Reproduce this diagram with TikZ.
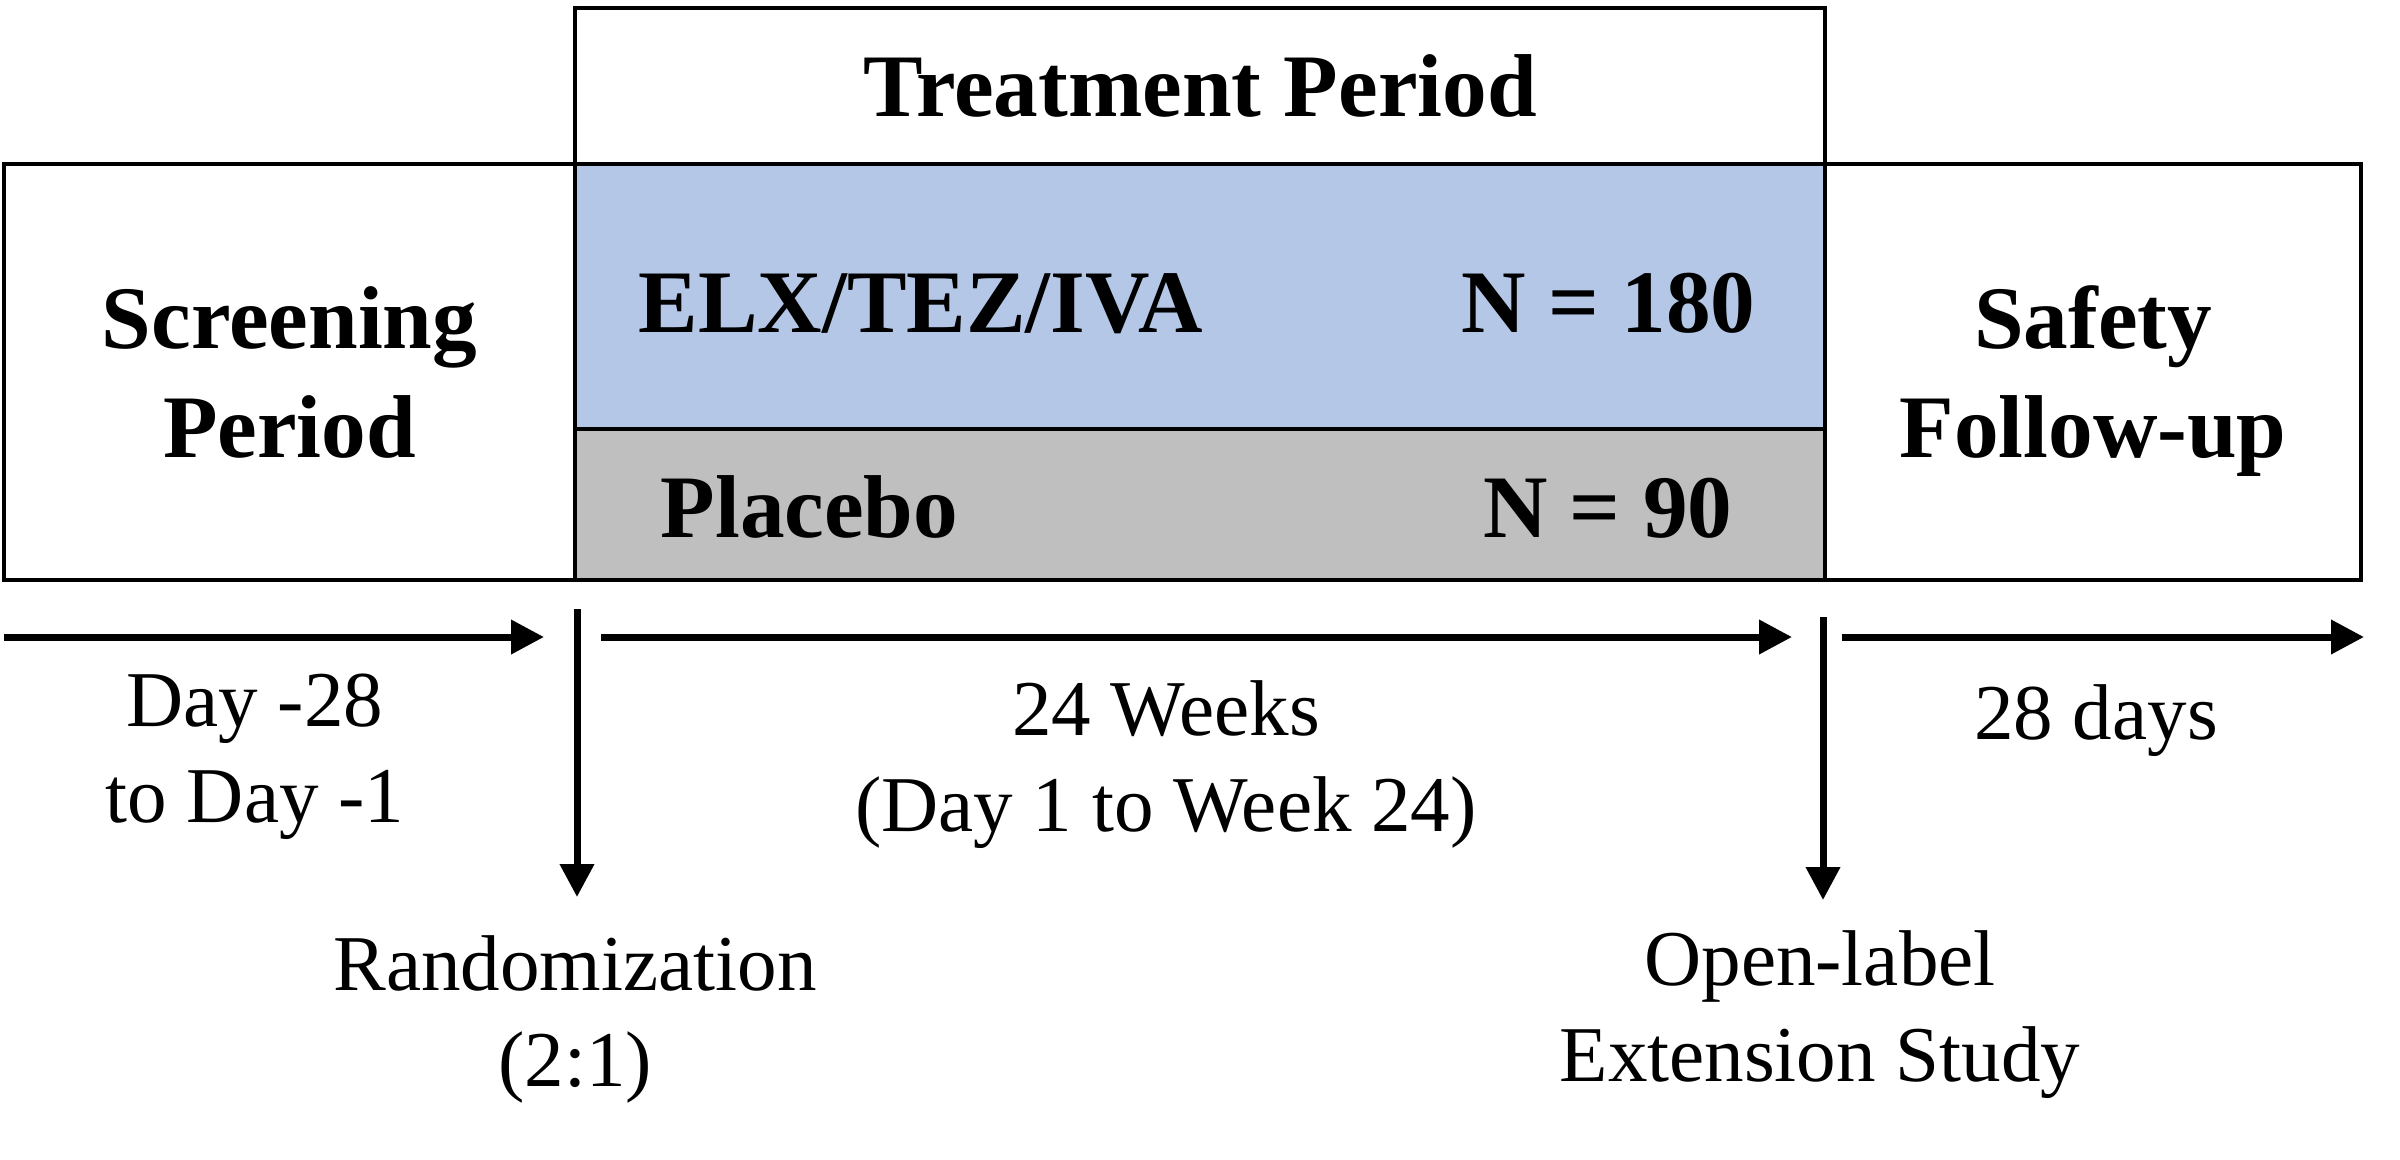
\documentclass[tikz,border=0pt]{standalone}
\usepackage{fontspec}
\setmainfont{Liberation Serif}
\usetikzlibrary{positioning, arrows.meta}
\definecolor{armblue}{HTML}{B4C7E7}
\definecolor{armgray}{HTML}{BFBFBF}
\tikzset{
  period/.style={
    rectangle,
    draw=black,
    line width=0.47mm,
    outer sep=0pt,
    inner sep=0pt,
    align=center,
    text depth=0pt,
    font=\fontsize{25.4}{31}\selectfont\bfseries
    },
  arm/.style={
    period,
    minimum width=125mm
    },
  armtext/.style={
    inner sep=0pt,
    font=\fontsize{25.4}{31}\selectfont\bfseries
    },
  timetext/.style={
    inner sep=0pt,
    align=center,
    font=\fontsize{22.5}{27.3}\selectfont
    },
  arrow/.style={line width=0.7mm,-{Triangle[length=3.3mm,width=3.3mm]}},
}
\begin{document}
\begin{tikzpicture}[
  x=0.1mm, y=-0.1mm,
  node distance=0mm
  ]
\useasboundingbox (0,0) rectangle (2400,1159);
\node (treat) [period, minimum width=125mm, minimum height=15.6mm, anchor=north west] at (575,8) {Treatment Period};
\node (elx) [arm, fill=armblue, minimum height=26.5mm, below=of treat] {};
\node (pbo) [arm, fill=armgray, minimum height=15.1mm, below=of elx] {};
\node (screen) [period, minimum width=57.1mm, minimum height=41.6mm, anchor=north east] at (elx.north west) {Screening\\Period};
\node (safety) [period, minimum width=53.6mm, minimum height=41.6mm, anchor=north west] at (elx.north east) {Safety\\Follow-up};
\node (elxname) [armtext, anchor=base west] at (638,332) {ELX/TEZ/IVA};
\node (elxn) [armtext, anchor=base east] at (1756,332) {N = 180};
\node (pboname) [armtext, anchor=base west] at (660,537) {Placebo};
\node (pbon) [armtext, anchor=base east] at (1733,537) {N = 90};
\coordinate (s0) at (4,637);
\coordinate (s1) at (544,637);
\coordinate (w0) at (601,637);
\coordinate (w1) at (1792,637);
\coordinate (f0) at (1842,637);
\coordinate (f1) at (2364,637);
\coordinate (r0) at (577,609);
\coordinate (r1) at (577,897);
\coordinate (o0) at (1823,617);
\coordinate (o1) at (1823,900);
\draw[arrow] (s0) -- (s1);
\draw[arrow] (w0) -- (w1);
\draw[arrow] (f0) -- (f1);
\draw[arrow] (r0) -- (r1);
\draw[arrow] (o0) -- (o1);
\node (screendays) [timetext] at (255,757) {Day -28\\to Day -1};
\node (treatweeks) [timetext] at (1166,765) {24 Weeks\\(Day 1 to Week 24)};
\node (fudays) [timetext, anchor=base] at (2096,739) {28 days};
\node (rand) [timetext] at (575,1019) {Randomization\\(2:1)};
\node (ole) [timetext] at (1820,1015) {Open-label\\Extension Study};
\end{tikzpicture}
\end{document}
